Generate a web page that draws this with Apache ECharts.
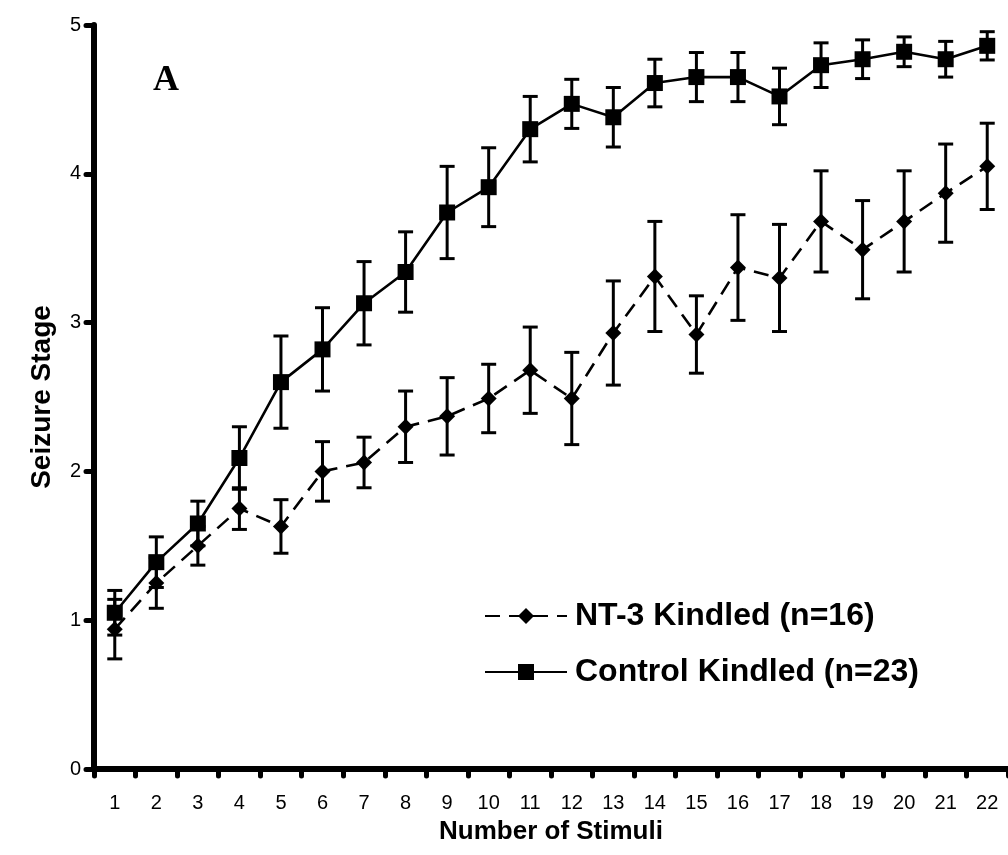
<!DOCTYPE html>
<html>
<head>
<meta charset="utf-8">
<title>Seizure Stage vs Number of Stimuli</title>
<script src="https://cdn.jsdelivr.net/npm/echarts@6/dist/echarts.min.js"></script>
<style>
  html, body { margin: 0; padding: 0; background: #fff; }
  #chart { width: 1008px; height: 855px; }
</style>
</head>
<body>
<div id="chart"></div>
<script>
// Stimulus number (category axis labels)
const stimuli = ['1','2','3','4','5','6','7','8','9','10','11','12','13','14','15','16','17','18','19','20','21','22'];

// Control kindled group: mean seizure stage and SEM per stimulus
const controlMean = [1.05, 1.39, 1.65, 2.09, 2.60, 2.82, 3.13, 3.34, 3.74, 3.91, 4.30, 4.47, 4.38, 4.61, 4.65, 4.65, 4.52, 4.73, 4.77, 4.82, 4.77, 4.86];
const controlSem  = [0.15, 0.17, 0.15, 0.21, 0.31, 0.28, 0.28, 0.27, 0.31, 0.265, 0.22, 0.165, 0.20, 0.16, 0.165, 0.165, 0.19, 0.15, 0.13, 0.10, 0.12, 0.095];

// NT-3 kindled group: mean seizure stage and SEM per stimulus
const nt3Mean = [0.94, 1.25, 1.50, 1.75, 1.63, 2.00, 2.06, 2.30, 2.37, 2.49, 2.68, 2.49, 2.93, 3.31, 2.92, 3.37, 3.30, 3.68, 3.49, 3.68, 3.87, 4.05];
const nt3Sem  = [0.20, 0.17, 0.13, 0.14, 0.18, 0.20, 0.17, 0.24, 0.26, 0.23, 0.29, 0.31, 0.35, 0.37, 0.26, 0.355, 0.36, 0.34, 0.33, 0.34, 0.33, 0.29];

// Y axis ticks
const yTicks = [0, 1, 2, 3, 4, 5];

const nt3Name = 'NT-3 Kindled (n=16)';
const controlName = 'Control Kindled (n=23)';
const FONT = '"Liberation Sans", Arial, Helvetica, sans-serif';

function errorData(mean, sem) {
  return mean.map((m, i) => [i, m - sem[i], m + sem[i]]);
}

// Vertical error bar with caps at both ends
function renderErrorBar(params, api) {
  const idx = api.value(0);
  const lo = api.coord([idx, api.value(1)]);
  const hi = api.coord([idx, api.value(2)]);
  const hw = 7.5;
  const style = { stroke: '#000', lineWidth: 3, fill: null };
  return {
    type: 'group',
    children: [
      { type: 'line', shape: { x1: lo[0], y1: lo[1], x2: hi[0], y2: hi[1] }, style: style },
      { type: 'line', shape: { x1: hi[0] - hw, y1: hi[1], x2: hi[0] + hw, y2: hi[1] }, style: style },
      { type: 'line', shape: { x1: lo[0] - hw, y1: lo[1], x2: lo[0] + hw, y2: lo[1] }, style: style }
    ]
  };
}

const chart = echarts.init(document.getElementById('chart'), null, { renderer: 'canvas' });

chart.setOption({
  backgroundColor: '#fff',
  animation: false,
  grid: { left: 94, right: 0, top: 25, bottom: 86, containLabel: false },
  graphic: [
    {
      type: 'text',
      left: 153,
      top: 63,
      style: {
        text: 'A',
        font: 'bold 36px "Liberation Serif", "Times New Roman", serif',
        fill: '#000'
      }
    }
  ],
  legend: {
    orient: 'vertical',
    left: 479,
    top: 595,
    itemGap: 24,
    itemWidth: 82,
    itemHeight: 20,
    selectedMode: false,
    data: [nt3Name, controlName],
    textStyle: { fontSize: 32, fontWeight: 'bold', fontFamily: FONT, color: '#000', padding: [0, 0, 0, 3] }
  },
  xAxis: {
    type: 'category',
    data: stimuli,
    boundaryGap: true,
    name: 'Number of Stimuli',
    nameLocation: 'middle',
    nameGap: 50,
    nameTextStyle: { fontSize: 26, fontWeight: 'bold', fontFamily: FONT, color: '#000' },
    axisLine: { show: true, lineStyle: { color: '#000', width: 6 } },
    axisTick: { show: true, interval: 0, alignWithLabel: false, length: 7, lineStyle: { color: '#000', width: 5, cap: 'round' } },
    axisLabel: { interval: 0, margin: 24, fontSize: 20, fontFamily: FONT, color: '#000' },
    splitLine: { show: false }
  },
  yAxis: {
    type: 'value',
    min: yTicks[0],
    max: yTicks[yTicks.length - 1],
    interval: 1,
    name: 'Seizure Stage',
    nameLocation: 'middle',
    nameGap: 38,
    nameTextStyle: { fontSize: 28, fontWeight: 'bold', fontFamily: FONT, color: '#000' },
    axisLine: { show: true, lineStyle: { color: '#000', width: 6, cap: 'round' } },
    axisTick: { show: true, length: 8, lineStyle: { color: '#000', width: 5, cap: 'round' } },
    axisLabel: { margin: 13, fontSize: 20, fontFamily: FONT, color: '#000' },
    splitLine: { show: false }
  },
  series: [
    {
      name: 'nt3Err',
      type: 'custom',
      renderItem: renderErrorBar,
      data: errorData(nt3Mean, nt3Sem),
      encode: { x: 0, y: [1, 2] },
      z: 2,
      silent: true
    },
    {
      name: 'controlErr',
      type: 'custom',
      renderItem: renderErrorBar,
      data: errorData(controlMean, controlSem),
      encode: { x: 0, y: [1, 2] },
      z: 2,
      silent: true
    },
    {
      name: nt3Name,
      type: 'line',
      data: nt3Mean,
      symbol: 'diamond',
      symbolSize: 16,
      showSymbol: true,
      itemStyle: { color: '#000' },
      lineStyle: { color: '#000', width: 2.6, type: [15, 9] },
      z: 3
    },
    {
      name: controlName,
      type: 'line',
      data: controlMean,
      symbol: 'rect',
      symbolSize: 16,
      showSymbol: true,
      itemStyle: { color: '#000' },
      lineStyle: { color: '#000', width: 2.6 },
      z: 4
    }
  ]
});
</script>
</body>
</html>
